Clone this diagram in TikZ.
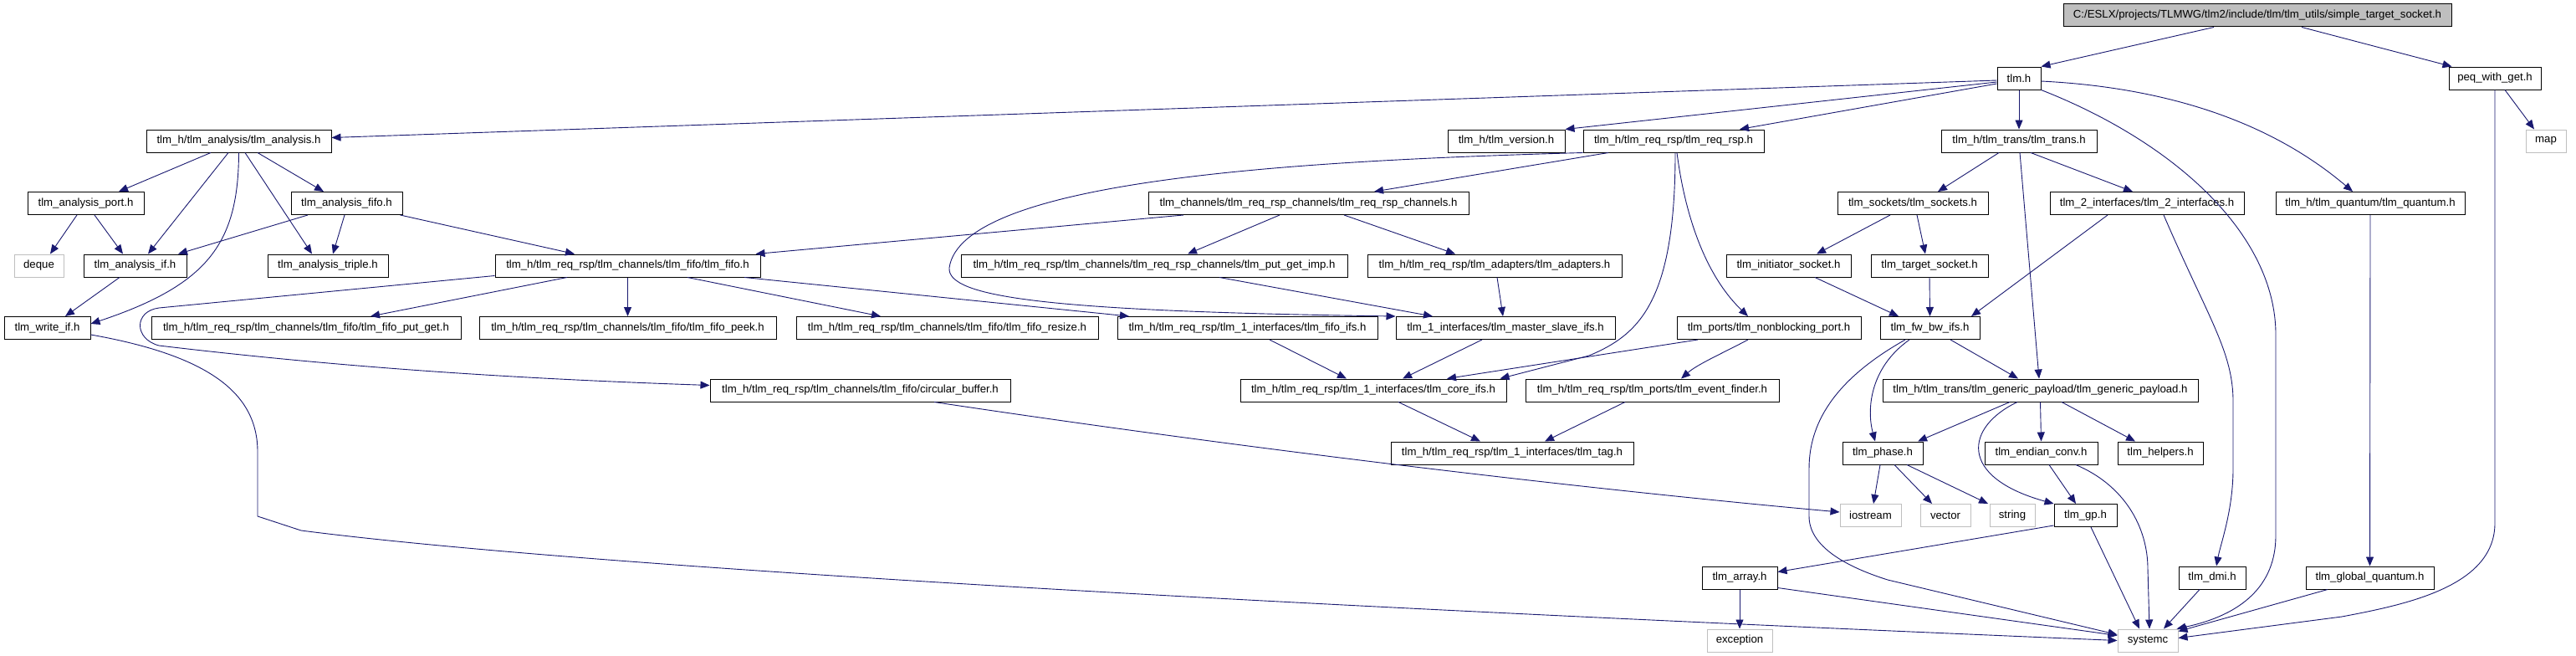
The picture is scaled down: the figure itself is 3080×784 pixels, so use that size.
\documentclass[tikz,border=0pt]{standalone}
\usepackage{fontspec}
\setmainfont{Liberation Sans}
\usetikzlibrary{arrows.meta}
\definecolor{edgec}{HTML}{191970}
\definecolor{grayb}{HTML}{BFBFBF}
\begin{document}
\begin{tikzpicture}[x=1pt,y=-1pt,
 box/.style={draw=black,line width=1pt,inner sep=0pt,minimum height=27pt,font=\fontsize{13.2}{15}\selectfont,text=black},
 sysbox/.style={box,draw=grayb},
 topbox/.style={box,fill=grayb},
 e/.style={draw=edgec,line width=0.9pt,-{Triangle[length=11pt,width=9pt]}}]
\fill[white] (0,0) rectangle (3080,784);
\useasboundingbox (0,0) rectangle (3080,784);
% row 0-1
\node[topbox,minimum width=464pt] (ntop) at (2699,18.5) {C:/ESLX/projects/TLMWG/tlm2/include/tlm/tlm\_utils/simple\_target\_socket.h};
\node[box,minimum width=52pt] (tlmh) at (2414,93.5) {tlm.h};
\node[box,minimum width=110pt] (peq) at (2983,93.5) {peq\_with\_get.h};
% row 2
\node[box,minimum width=221pt] (ana) at (285.5,168.5) {tlm\_h/tlm\_analysis/tlm\_analysis.h};
\node[box,minimum width=140pt] (ver) at (1801,168.5) {tlm\_h/tlm\_version.h};
\node[box,minimum width=216pt] (reqrsp) at (2001,168.5) {tlm\_h/tlm\_req\_rsp/tlm\_req\_rsp.h};
\node[box,minimum width=186pt] (trans) at (2414,168.5) {tlm\_h/tlm\_trans/tlm\_trans.h};
\node[sysbox,minimum width=48pt] (nmap) at (3044,168.5) {map};
% row 3
\node[box,minimum width=139pt] (aport) at (102.5,243) {tlm\_analysis\_port.h};
\node[box,minimum width=133pt] (afifo) at (414.5,243) {tlm\_analysis\_fifo.h};
\node[box,minimum width=383pt] (chans) at (1564.5,243) {tlm\_channels/tlm\_req\_rsp\_channels/tlm\_req\_rsp\_channels.h};
\node[box,minimum width=180pt] (sockets) at (2287,243) {tlm\_sockets/tlm\_sockets.h};
\node[box,minimum width=232pt] (if2) at (2567,243) {tlm\_2\_interfaces/tlm\_2\_interfaces.h};
\node[box,minimum width=226pt] (quant) at (2834,243) {tlm\_h/tlm\_quantum/tlm\_quantum.h};
% row 4
\node[sysbox,minimum width=59pt] (ndeque) at (46.5,317.5) {deque};
\node[box,minimum width=123pt] (aif) at (161.5,317.5) {tlm\_analysis\_if.h};
\node[box,minimum width=144pt] (triple) at (392,317.5) {tlm\_analysis\_triple.h};
\node[box,minimum width=317pt] (fifo) at (750.5,317.5) {tlm\_h/tlm\_req\_rsp/tlm\_channels/tlm\_fifo/tlm\_fifo.h};
\node[box,minimum width=462pt] (pgimp) at (1380,317.5) {tlm\_h/tlm\_req\_rsp/tlm\_channels/tlm\_req\_rsp\_channels/tlm\_put\_get\_imp.h};
\node[box,minimum width=304pt] (adapt) at (1787,317.5) {tlm\_h/tlm\_req\_rsp/tlm\_adapters/tlm\_adapters.h};
\node[box,minimum width=149pt] (isock) at (2138.5,317.5) {tlm\_initiator\_socket.h};
\node[box,minimum width=140pt] (tsock) at (2307,317.5) {tlm\_target\_socket.h};
% row 5
\node[box,minimum width=103pt] (wif) at (56.5,392) {tlm\_write\_if.h};
\node[box,minimum width=370pt] (fpg) at (366,392) {tlm\_h/tlm\_req\_rsp/tlm\_channels/tlm\_fifo/tlm\_fifo\_put\_get.h};
\node[box,minimum width=355pt] (fpeek) at (750.5,392) {tlm\_h/tlm\_req\_rsp/tlm\_channels/tlm\_fifo/tlm\_fifo\_peek.h};
\node[box,minimum width=361pt] (fres) at (1132.5,392) {tlm\_h/tlm\_req\_rsp/tlm\_channels/tlm\_fifo/tlm\_fifo\_resize.h};
\node[box,minimum width=311pt] (fifs) at (1491.5,392) {tlm\_h/tlm\_req\_rsp/tlm\_1\_interfaces/tlm\_fifo\_ifs.h};
\node[box,minimum width=262pt] (msifs) at (1800,392) {tlm\_1\_interfaces/tlm\_master\_slave\_ifs.h};
\node[box,minimum width=220pt] (nbport) at (2115,392) {tlm\_ports/tlm\_nonblocking\_port.h};
\node[box,minimum width=119pt] (fwbw) at (2307.5,392) {tlm\_fw\_bw\_ifs.h};
% row 6
\node[box,minimum width=359pt] (cbuf) at (1028.5,466.5) {tlm\_h/tlm\_req\_rsp/tlm\_channels/tlm\_fifo/circular\_buffer.h};
\node[box,minimum width=318pt] (core) at (1642,466.5) {tlm\_h/tlm\_req\_rsp/tlm\_1\_interfaces/tlm\_core\_ifs.h};
\node[box,minimum width=303pt] (evf) at (1975.5,466.5) {tlm\_h/tlm\_req\_rsp/tlm\_ports/tlm\_event\_finder.h};
\node[box,minimum width=377pt] (gp) at (2439.5,466.5) {tlm\_h/tlm\_trans/tlm\_generic\_payload/tlm\_generic\_payload.h};
% row 7
\node[box,minimum width=290pt] (tag) at (1808,541.5) {tlm\_h/tlm\_req\_rsp/tlm\_1\_interfaces/tlm\_tag.h};
\node[box,minimum width=96pt] (phase) at (2251,541.5) {tlm\_phase.h};
\node[box,minimum width=135pt] (endian) at (2440.5,541.5) {tlm\_endian\_conv.h};
\node[box,minimum width=102pt] (helpers) at (2583,541.5) {tlm\_helpers.h};
% row 8
\node[sysbox,minimum width=73pt] (nios) at (2236.5,616) {iostream};
\node[sysbox,minimum width=60pt] (nvec) at (2326,616) {vector};
\node[sysbox,minimum width=54pt] (nstr) at (2406,616) {string};
\node[box,minimum width=75pt] (tlmgp) at (2493.5,616) {tlm\_gp.h};
% row 9
\node[box,minimum width=90pt] (array) at (2080,690.5) {tlm\_array.h};
\node[box,minimum width=80pt] (dmi) at (2645,690.5) {tlm\_dmi.h};
\node[box,minimum width=153pt] (gq) at (2833.5,690.5) {tlm\_global\_quantum.h};
% row 10
\node[sysbox,minimum width=78pt] (nexc) at (2080,765.5) {exception};
\node[sysbox,minimum width=72pt] (nsys) at (2568,765.5) {systemc};
% edges
\draw[e] ([xshift=-52pt]ntop.south) -- (tlmh.north east);
\draw[e] ([xshift=53pt]ntop.south) -- ([xshift=4pt]peq.north west);
\draw[e] ([xshift=12pt]peq.south) -- ([xshift=-14pt]nmap.north);
\draw[e] (peq.south) -- (2983,625) .. controls (2983,700) and (2880,722) .. (2800,737) -- ([yshift=3pt]nsys.east);
\draw[e] ([yshift=-2.5pt]tlmh.west) -- ([yshift=4pt]ana.east);
\draw[e] ([yshift=-4.5pt]tlmh.west) -- (ver.north east);
\draw[e] ([yshift=-6.5pt]tlmh.west) -- ([xshift=79pt]reqrsp.north);
\draw[e] (tlmh.south) -- (trans.north);
\draw[e] ([yshift=-3.5pt]tlmh.east) .. controls (2600,105) and (2720,150) .. ([xshift=-21pt]quant.north);
\draw[e] (tlmh.south east) .. controls (2600,170) and (2721,280) .. (2721,400) -- (2721,640) .. controls (2721,700) and (2680,735) .. ([xshift=-2pt]nsys.north east);
\draw[e] ([xshift=-33.5pt]ana.south) -- ([xshift=39.5pt]aport.north);
\draw[e] ([xshift=-12.5pt]ana.south) -- ([xshift=15.5pt]aif.north);
\draw[e] (ana.south) .. controls (285,290) and (250,340) .. ([yshift=5pt]wif.east);
\draw[e] ([xshift=7.5pt]ana.south) -- ([xshift=-19pt]triple.north);
\draw[e] ([xshift=22.5pt]ana.south) -- ([xshift=-27.5pt]afifo.north);
\draw[e] ([xshift=-10.5pt]aport.south) -- ([xshift=13.5pt]ndeque.north);
\draw[e] ([xshift=10.5pt]aport.south) -- ([xshift=-14.5pt]aif.north);
\draw[e] ([xshift=-46.5pt]afifo.south) -- ([xshift=51.5pt]aif.north);
\draw[e] ([xshift=-2.5pt]afifo.south) -- ([xshift=6pt]triple.north);
\draw[e] ([xshift=-3pt]afifo.south east) -- ([xshift=-63.5pt]fifo.north);
\draw[e] ([xshift=-18.5pt]aif.south) -- ([xshift=21.5pt]wif.north);
\draw[e] ([yshift=-8pt]wif.east) .. controls (250,425) and (308,470) .. (308,540) -- (308,617) -- (360,634) .. controls (600,665) and (1200,710) .. (nsys.west);
\draw[e] ([xshift=-78pt]reqrsp.south) -- ([xshift=78.5pt]chans.north);
\draw[e] (reqrsp.south west) .. controls (1550,192) and (1150,215) .. (1135,320) .. controls (1132,355) and (1250,372) .. (msifs.north west);
\draw[e] ([xshift=2pt]reqrsp.south) .. controls (2003,360) and (1960,400) .. (1900,425) -- ([xshift=-8pt]core.north east);
\draw[e] ([xshift=4pt]reqrsp.south) .. controls (2015,260) and (2040,330) .. ([xshift=-25pt]nbport.north);
\draw[e] ([xshift=-149.5pt]chans.south) -- ([xshift=-6pt]fifo.north east);
\draw[e] ([xshift=-34.5pt]chans.south) -- ([xshift=40pt]pgimp.north);
\draw[e] ([xshift=42.5pt]chans.south) -- ([xshift=-47pt]adapt.north);
\draw[e] ([xshift=3pt]adapt.south) -- ([xshift=-3pt]msifs.north);
\draw[e] ([xshift=78pt]pgimp.south) -- ([xshift=-87pt]msifs.north);
\draw[e] ([yshift=2pt]fifo.south west) -- (190,368) .. controls (160,372) and (160,405) .. (190,413) .. controls (400,438) and (600,452) .. ([yshift=6pt]cbuf.west);
\draw[e] ([xshift=-72.5pt]fifo.south) -- ([xshift=77pt]fpg.north);
\draw[e] (fifo.south) -- (fpeek.north);
\draw[e] ([xshift=71.5pt]fifo.south) -- ([xshift=-79.5pt]fres.north);
\draw[e] ([xshift=139.5pt]fifo.south) -- ([xshift=-141.5pt]fifs.north);
\draw[e] ([xshift=26.5pt]fifs.south) -- ([xshift=-32pt]core.north);
\draw[e] ([xshift=-28pt]msifs.south) -- ([xshift=35pt]core.north);
\draw[e] ([xshift=-85pt]nbport.south) -- ([xshift=88pt]core.north);
\draw[e] ([xshift=-25pt]nbport.south) .. controls (2060,422) and (2030,435) .. ([xshift=34.5pt]evf.north);
\draw[e] ([xshift=30pt]core.south) -- ([xshift=-38pt]tag.north);
\draw[e] ([xshift=-32.5pt]evf.south) -- ([xshift=39pt]tag.north);
\draw[e] ([xshift=88.5pt]cbuf.south) .. controls (1500,538) and (1900,585) .. ([yshift=4pt]nios.west);
\draw[e] ([xshift=-24pt]trans.south) -- ([xshift=30pt]sockets.north);
\draw[e] ([xshift=1pt]trans.south) -- ([xshift=-1.5pt]gp.north);
\draw[e] ([xshift=14pt]trans.south) -- ([xshift=-17pt]if2.north);
\draw[e] ([xshift=-27pt]sockets.south) -- ([xshift=33.5pt]isock.north);
\draw[e] ([xshift=5pt]sockets.south) -- ([xshift=-5pt]tsock.north);
\draw[e] ([xshift=31.5pt]isock.south) -- ([xshift=-37.5pt]fwbw.north);
\draw[e] (tsock.south) -- (fwbw.north);
\draw[e] ([xshift=-47pt]if2.south) -- ([xshift=49.5pt]fwbw.north);
\draw[e] ([xshift=20pt]if2.south) .. controls (2640,380) and (2670,420) .. (2670,480) -- (2670,560) .. controls (2670,610) and (2655,650) .. ([xshift=5pt]dmi.north);
\draw[e] (quant.south) -- (gq.north);
\draw[e] ([xshift=-50.5pt]gq.south) -- ([yshift=-3pt]nsys.north east);
\draw[e] ([xshift=-15pt]dmi.south) -- ([xshift=19pt]nsys.north);
\draw[e] ([xshift=24.5pt]fwbw.south) -- ([xshift=-26.5pt]gp.north);
\draw[e] ([xshift=-24.5pt]fwbw.south) .. controls (2235,440) and (2232,490) .. ([xshift=-9pt]phase.north);
\draw[e] ([xshift=-29.5pt]fwbw.south) .. controls (2200,450) and (2163,500) .. (2163,560) -- (2163,617) .. controls (2163,650) and (2200,675) .. (2257,693) -- ([yshift=7pt]nsys.west);
\draw[e] ([xshift=-36.5pt]gp.south) -- ([xshift=42pt]phase.north);
\draw[e] (gp.south) -- (endian.north);
\draw[e] ([xshift=25.5pt]gp.south) -- ([xshift=-30pt]helpers.north);
\draw[e] ([xshift=-27.5pt]gp.south) .. controls (2350,510) and (2340,570) .. (tlmgp.north west);
\draw[e] ([xshift=-3pt]phase.south) -- ([xshift=3.5pt]nios.north);
\draw[e] ([xshift=14pt]phase.south) -- ([xshift=-16pt]nvec.north);
\draw[e] ([xshift=29pt]phase.south) -- ([xshift=-29pt]nstr.north);
\draw[e] ([xshift=9.5pt]endian.south) -- ([xshift=-11.5pt]tlmgp.north);
\draw[e] ([xshift=41.5pt]endian.south) .. controls (2540,580) and (2568,630) .. (2568,680) -- ([xshift=2pt]nsys.north);
\draw[e] ([yshift=2pt]tlmgp.south west) -- ([yshift=-7pt]array.north east);
\draw[e] ([xshift=6.5pt]tlmgp.south) -- ([xshift=-10pt]nsys.north);
\draw[e] (array.south) -- (nexc.north);
\draw[e] ([yshift=2pt]array.south east) -- ([yshift=6pt]nsys.west);
\end{tikzpicture}
\end{document}
